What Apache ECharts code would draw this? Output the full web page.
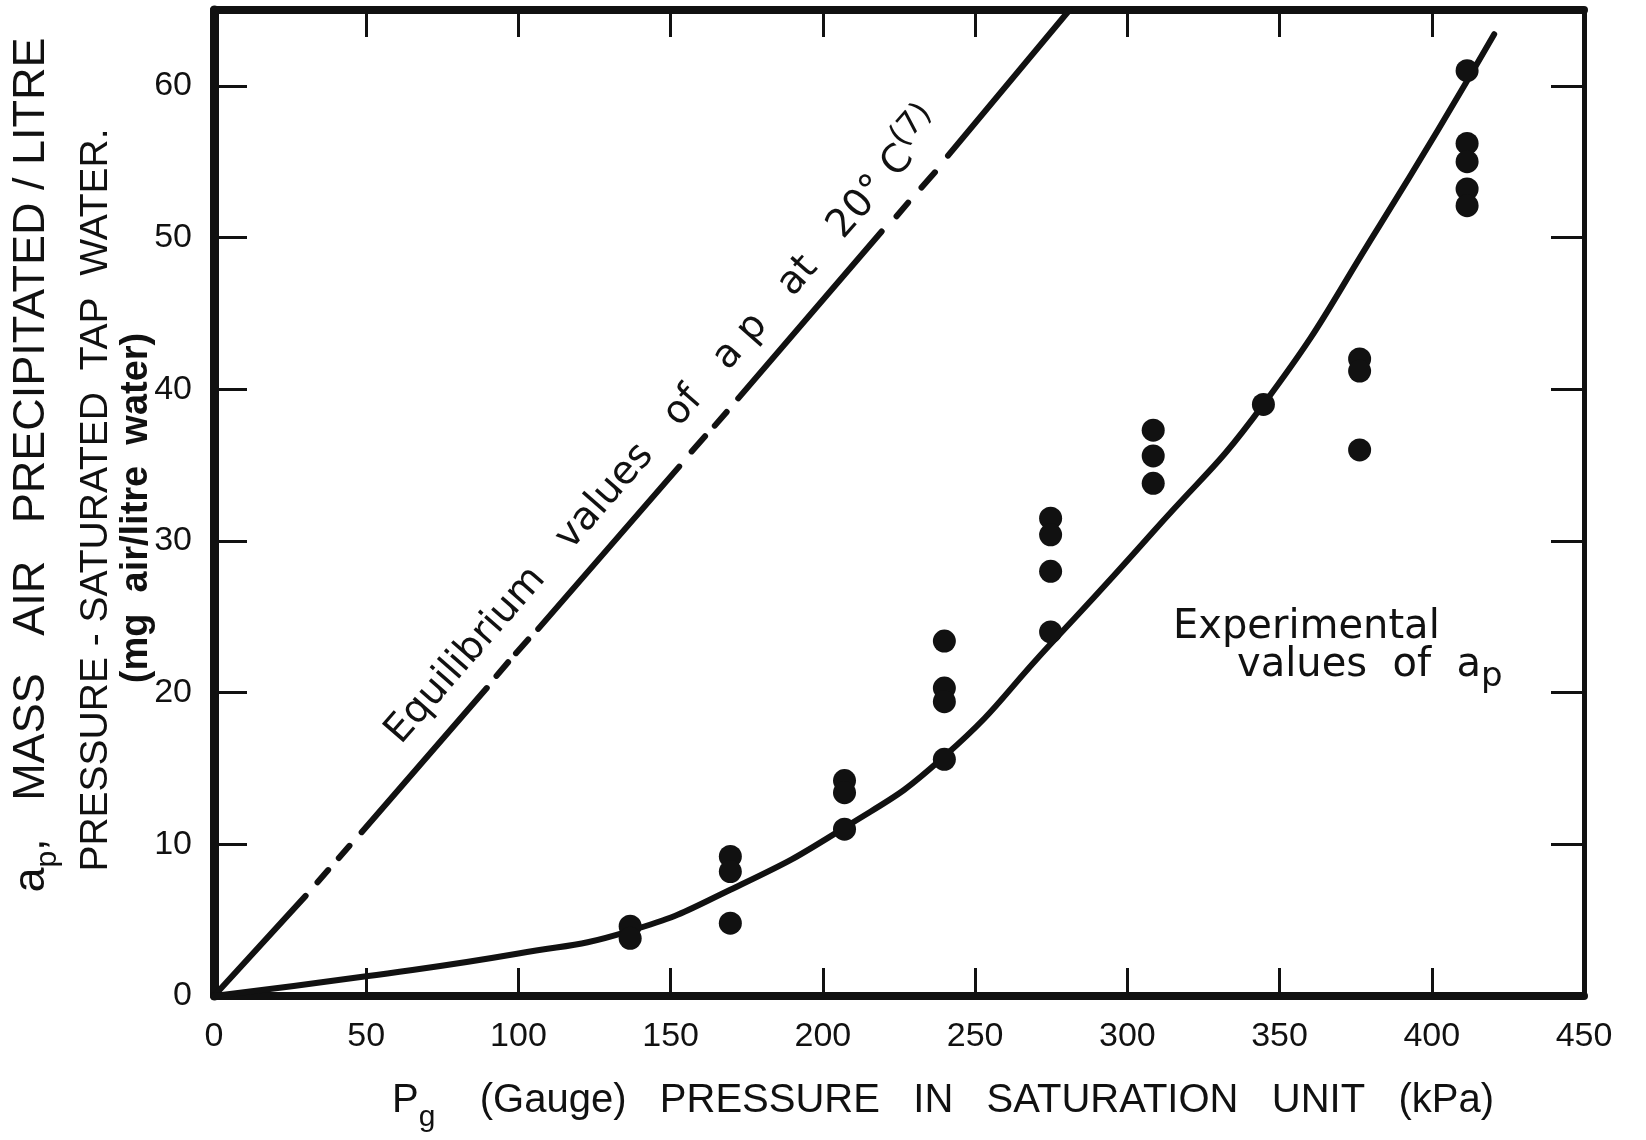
<!DOCTYPE html>
<html>
<head>
<meta charset="utf-8">
<script src="https://cdn.jsdelivr.net/npm/echarts@6/dist/echarts.min.js"></script>
<style>
html,body{margin:0;padding:0;background:#ffffff;}
#chart{width:1646px;height:1140px;}
</style>
</head>
<body>
<div id="chart"></div>
<script>
// ---- data ----
const xTickValues = [0, 50, 100, 150, 200, 250, 300, 350, 400, 450];
const yTickValues = [0, 10, 20, 30, 40, 50, 60];

// experimental values of a_p  [pressure kPa, mg air / litre water]
const experimentalPoints = [
  [136.7, 4.6], [136.7, 3.8],
  [169.6, 9.2], [169.6, 8.2], [169.6, 4.8],
  [207.1, 14.2], [207.1, 13.4], [207.1, 11.0],
  [239.9, 23.4], [239.9, 20.3], [239.9, 19.4], [239.9, 15.6],
  [274.8, 31.5], [274.8, 30.4], [274.8, 28.0], [274.8, 24.0],
  [308.5, 37.3], [308.5, 35.6], [308.5, 33.8],
  [344.7, 39.0],
  [376.3, 42.0], [376.3, 41.2], [376.3, 36.0],
  [411.6, 61.0], [411.6, 56.2], [411.6, 55.0], [411.6, 53.2], [411.6, 52.1]
];

// fitted curve through the experimental values
const experimentalCurve = [
  [0, 0], [50, 1.3], [100, 2.8], [136.7, 4.3], [169.6, 7.0], [207.1, 11.1],
  [239.9, 15.8], [274.8, 23.2], [308.5, 30.6], [344.7, 39.0], [382.9, 50.8],
  [420.5, 63.4]
];

// equilibrium line, drawn piece by piece (solid runs and short dashes)
const equilibriumSolid = [
  [[0, 0], [30.1, 6.6]],
  [[48.5, 10.8], [89.6, 20.3]],
  [[106.5, 24.2], [152.8, 34.9]],
  [[172.2, 39.4], [219.3, 50.4]],
  [[241.1, 55.4], [281.0, 65.0]]
];
const equilibriumDashes = [
  [[34.0, 7.5], [37.5, 8.3]],
  [[41.0, 9.1], [44.5, 9.9]],
  [[92.8, 21.1], [96.6, 22.0]],
  [[99.2, 22.6], [103.2, 23.5]],
  [[156.9, 35.9], [161.3, 36.9]],
  [[164.5, 37.6], [168.4, 38.5]],
  [[224.2, 51.4], [228.0, 52.3]],
  [[232.4, 53.3], [236.8, 54.3]]
];

// ---- chart ----
const INK = '#111111';
const AXIS_FONT = 'Liberation Sans';
const NOTE_FONT = 'DejaVu Sans';

function segmentSeries(pts, width) {
  return {
    type: 'line', data: pts, symbol: 'none', showSymbol: false, silent: true,
    clip: true, animation: false,
    lineStyle: { color: INK, width: width, cap: 'round', opacity: 1 }, z: 3
  };
}

const series = [];
equilibriumSolid.forEach(s => series.push(segmentSeries(s, 6)));
equilibriumDashes.forEach(s => series.push(segmentSeries(s, 6)));
series.push({
  type: 'line', data: experimentalCurve, smooth: 0.5,
  symbol: 'none', showSymbol: false,
  silent: true, animation: false, clip: true,
  lineStyle: { color: INK, width: 6, cap: 'round', opacity: 1 }, z: 3
});
series.push({
  type: 'scatter', data: experimentalPoints, symbol: 'circle', symbolSize: 23,
  itemStyle: { color: INK, opacity: 1 }, silent: true, animation: false, z: 4
});

const baseX = {
  type: 'value', min: xTickValues[0], max: xTickValues[xTickValues.length - 1], interval: 50,
  splitLine: { show: false }
};
const baseY = {
  type: 'value', min: yTickValues[0], max: 65, interval: 10,
  splitLine: { show: false }
};

const option = {
  backgroundColor: '#ffffff',
  animation: false,
  grid: { left: 214, right: 62, top: 10, bottom: 144 },
  xAxis: [
    Object.assign({}, baseX, {
      position: 'bottom',
      axisLine: { show: true, onZero: false, lineStyle: { color: INK, width: 8 } },
      axisTick: { show: true, inside: true, length: 28, lineStyle: { color: INK, width: 3 },
                  customValues: xTickValues },
      axisLabel: { show: true, margin: 24, fontFamily: AXIS_FONT, fontSize: 34, color: INK,
                   customValues: xTickValues }
    }),
    Object.assign({}, baseX, {
      position: 'top',
      axisLine: { show: true, onZero: false, lineStyle: { color: INK, width: 8 } },
      axisTick: { show: true, inside: true, length: 27, lineStyle: { color: INK, width: 3 } },
      axisLabel: { show: false }
    })
  ],
  yAxis: [
    Object.assign({}, baseY, {
      position: 'left',
      axisLine: { show: true, onZero: false, lineStyle: { color: INK, width: 9 } },
      axisTick: { show: true, inside: true, length: 33, lineStyle: { color: INK, width: 3 },
                  customValues: yTickValues },
      axisLabel: { show: true, margin: 22, fontFamily: AXIS_FONT, fontSize: 34, color: INK,
                   customValues: yTickValues }
    }),
    Object.assign({}, baseY, {
      position: 'right',
      axisLine: { show: true, onZero: false, lineStyle: { color: INK, width: 5 } },
      axisTick: { show: true, inside: true, length: 33, lineStyle: { color: INK, width: 3 },
                  customValues: yTickValues },
      axisLabel: { show: false }
    })
  ],
  series: series,
  graphic: [
    { // y title line 1
      type: 'text', x: 32, y: 465, rotation: Math.PI / 2, silent: true,
      style: {
        text: '{a|a}{s|p}{a|,   MASS   AIR   PRECIPITATED / LITRE}',
        align: 'center', verticalAlign: 'middle', fill: INK,
        rich: {
          a: { fontSize: 45, fontFamily: AXIS_FONT, fill: INK, lineHeight: 62 },
          s: { fontSize: 30, fontFamily: AXIS_FONT, fill: INK, lineHeight: 30, verticalAlign: 'bottom' }
        }
      }
    },
    { // y title line 2
      type: 'text', x: 96, y: 500, rotation: Math.PI / 2, silent: true,
      style: {
        text: 'PRESSURE - SATURATED  TAP  WATER.',
        align: 'center', verticalAlign: 'middle', fill: INK,
        fontSize: 39, fontFamily: AXIS_FONT
      }
    },
    { // y title line 3
      type: 'text', x: 137, y: 508, rotation: Math.PI / 2, silent: true,
      style: {
        text: '(mg  air/litre  water)',
        align: 'center', verticalAlign: 'middle', fill: INK,
        fontSize: 38, fontWeight: 'bold', fontFamily: AXIS_FONT
      }
    },
    { // x title
      type: 'text', x: 943, y: 1101, silent: true,
      style: {
        text: '{a|P}{s|g}{a|    (Gauge)   PRESSURE   IN   SATURATION   UNIT   (kPa)}',
        align: 'center', verticalAlign: 'middle', fill: INK,
        rich: {
          a: { fontSize: 40, fontFamily: AXIS_FONT, fill: INK, lineHeight: 64 },
          s: { fontSize: 30, fontFamily: AXIS_FONT, fill: INK, lineHeight: 30, verticalAlign: 'bottom' }
        }
      }
    },
    { // equilibrium label along the line
      type: 'text', x: 665, y: 428, rotation: 48.8 * Math.PI / 180, silent: true,
      style: {
        text: '{t|Equilibrium   values   of   a p   at   20° C}{u|(7)}',
        align: 'center', verticalAlign: 'middle', fill: INK,
        rich: {
          t: { fontSize: 39, fontFamily: NOTE_FONT, fill: INK, lineHeight: 60 },
          u: { fontSize: 32, fontFamily: NOTE_FONT, fill: INK, lineHeight: 32, verticalAlign: 'top' }
        }
      }
    },
    { // experimental label
      type: 'text', x: 1173, y: 628, silent: true,
      style: {
        text: 'Experimental', align: 'left', verticalAlign: 'middle', fill: INK,
        fontSize: 40, fontFamily: NOTE_FONT
      }
    },
    {
      type: 'text', x: 1237, y: 666, silent: true,
      style: {
        text: '{t|values  of  a}{s|p}',
        align: 'left', verticalAlign: 'middle', fill: INK,
        rich: {
          t: { fontSize: 40, fontFamily: NOTE_FONT, fill: INK, lineHeight: 56 },
          s: { fontSize: 34, fontFamily: NOTE_FONT, fill: INK, lineHeight: 34, verticalAlign: 'bottom' }
        }
      }
    }
  ]
};

const chart = echarts.init(document.getElementById('chart'), null, { renderer: 'canvas' });
chart.setOption(option);
</script>
</body>
</html>
